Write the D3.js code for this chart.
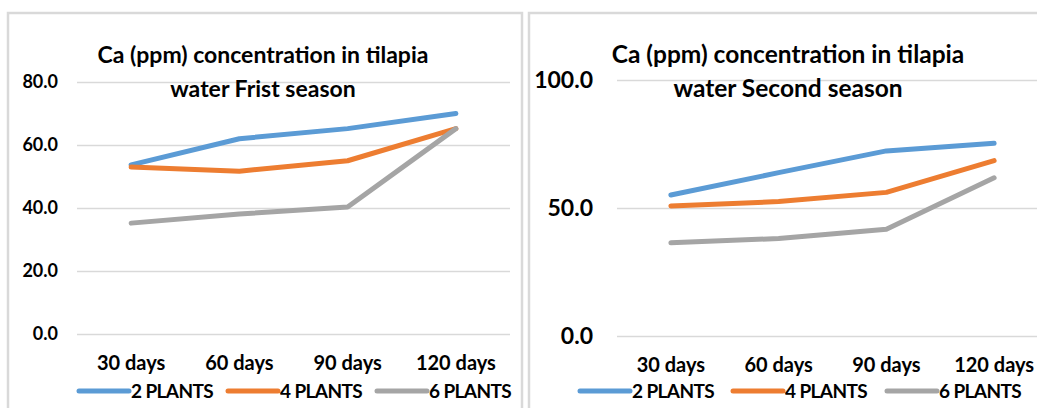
<!DOCTYPE html>
<html>
<head>
<meta charset="utf-8">
<script src="https://cdn.jsdelivr.net/npm/d3@7"></script>
<style>
  body { margin: 0; background: #fff; }
  svg text { font-family: Lato, "Open Sans", sans-serif; font-weight: bold; fill: #000; }
</style>
</head>
<body>
<div id="chart"></div>
<script>
// data

const categories = ["30 days", "60 days", "90 days", "120 days"];
const seriesNames = ["2 PLANTS", "4 PLANTS", "6 PLANTS"];
const colors = ["#5B9BD5", "#ED7D31", "#A5A5A5"];

const first2Plants = [53.7, 62.0, 65.2, 70.0];
const first4Plants = [53.0, 51.7, 55.0, 65.2];
const first6Plants = [35.2, 38.1, 40.3, 65.2];
const firstTicks = [0, 20, 40, 60, 80];

const second2Plants = [55.1, 63.8, 72.3, 75.3];
const second4Plants = [50.8, 52.5, 56.1, 68.5];
const second6Plants = [36.4, 38.1, 41.7, 61.8];
const secondTicks = [0, 50, 100];

const svg = d3.select("#chart")
  .append("svg")
  .attr("width", 1037)
  .attr("height", 408);

function lineChart(opts) {
  const g = svg.append("g");

  // frame
  g.append("rect")
    .attr("x", opts.frame[0])
    .attr("y", opts.frame[1])
    .attr("width", opts.frame[2])
    .attr("height", opts.frame[3])
    .attr("fill", "#fff")
    .attr("stroke", "#D9D9D9")
    .attr("stroke-width", 2.5);

  const x = d3.scaleBand().domain(categories).range([opts.left, opts.right]);
  const y = d3.scaleLinear().domain([0, opts.max]).range([opts.bottom, opts.top]);

  // grid + y labels
  const yAxis = g.append("g")
    .attr("transform", "translate(" + opts.left + ",0)")
    .call(d3.axisLeft(y).tickValues(opts.ticks)
      .tickSize(-(opts.right - opts.left))
      .tickPadding(opts.left - opts.labelX)
      .tickFormat(d3.format(".1f")));
  yAxis.select(".domain").remove();
  yAxis.selectAll(".tick line").attr("stroke", "#D9D9D9").attr("stroke-width", 1.5);
  yAxis.selectAll(".tick text").style("font-size", opts.tickSize + "px");

  // x labels
  const xAxis = g.append("g")
    .attr("transform", "translate(0," + opts.bottom + ")")
    .call(d3.axisBottom(x).tickSize(0).tickPadding(opts.xPad));
  xAxis.select(".domain").remove();
  xAxis.selectAll(".tick text").style("font-size", "20px");

  // lines
  const line = d3.line()
    .x((d, i) => x(categories[i]) + x.bandwidth() / 2)
    .y((d) => y(d));

  opts.series.forEach(function (s, i) {
    g.append("path")
      .datum(s)
      .attr("d", line)
      .attr("fill", "none")
      .attr("stroke", colors[i])
      .attr("stroke-width", 5)
      .attr("stroke-linejoin", "round")
      .attr("stroke-linecap", "round");
  });

  // title
  const title = g.append("text")
    .attr("text-anchor", "middle")
    .style("font-size", opts.titleSize + "px");
  opts.title.forEach(function (t, i) {
    title.append("tspan")
      .attr("x", opts.titleX)
      .attr("y", 63 + i * 34)
      .text(t);
  });

  // legend
  const leg = g.append("g")
    .selectAll("g")
    .data(seriesNames)
    .join("g")
    .attr("transform", (d, i) => "translate(" + opts.legendX[i] + ",391)");
  leg.append("line")
    .attr("x1", 0).attr("x2", 50)
    .attr("stroke", (d, i) => colors[i])
    .attr("stroke-width", 5)
    .attr("stroke-linecap", "round");
  leg.append("text")
    .attr("x", 52)
    .attr("dy", "0.36em")
    .style("font-size", "19px")
    .style("letter-spacing", "-0.6px")
    .text((d) => d);
}

lineChart({
  frame: [8, 13, 514, 420],
  left: 77, right: 510, top: 82, bottom: 334,
  max: 80, ticks: firstTicks, labelX: 58, tickSize: 18, xPad: 22,
  series: [first2Plants, first4Plants, first6Plants],
  title: ["Ca (ppm) concentration in tilapia", "water Frist season"],
  titleX: 263, titleSize: 23,
  legendX: [79, 228, 377]
});

lineChart({
  frame: [529, 13, 540, 420],
  left: 617, right: 1048, top: 80, bottom: 336,
  max: 100, ticks: secondTicks, labelX: 593, tickSize: 23, xPad: 22,
  series: [second2Plants, second4Plants, second6Plants],
  title: ["Ca (ppm) concentration in tilapia", "water Second season"],
  titleX: 788, titleSize: 24.5,
  legendX: [580, 733, 887]
});
</script>
</body>
</html>
